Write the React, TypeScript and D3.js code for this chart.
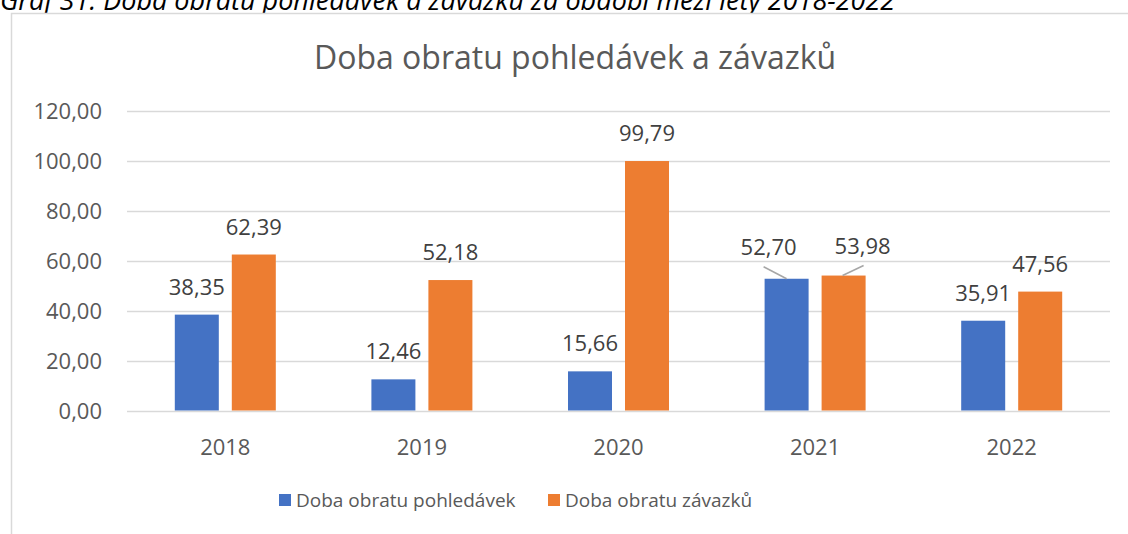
import { useRef, useEffect } from 'react';
import { select, scaleBand, scaleLinear } from 'd3';

const years = ['2018', '2019', '2020', '2021', '2022'];
const receivables = [38.35, 12.46, 15.66, 52.7, 35.91];
const payables = [62.39, 52.18, 99.79, 53.98, 47.56];
const seriesNames = ['Doba obratu pohledávek', 'Doba obratu závazků'];
const seriesColors = ['#4472c4', '#ed7d31'];
const yTicks = [0, 20, 40, 60, 80, 100, 120];

const fmt = (v: number) => v.toFixed(2).replace('.', ',');

const App = () => {
  const svgRef = useRef<SVGSVGElement | null>(null);

  useEffect(() => {
    document.body.style.margin = '0';
    const svg = select(svgRef.current);
    svg.selectAll('*').remove();
    const font = '"Open Sans", sans-serif';

    // caption above the chart (clipped at the top, as in the source)
    svg
      .append('text')
      .attr('x', 0)
      .attr('y', 10)
      .attr('font-family', font)
      .attr('font-style', 'italic')
      .attr('font-size', 27)
      .attr('fill', '#000')
      .text('Graf 31: Doba obratu pohledávek a závazků za období mezi lety 2018-2022');

    // chart frame
    svg
      .append('rect')
      .attr('x', 11.5)
      .attr('y', 13.5)
      .attr('width', 1200)
      .attr('height', 600)
      .attr('fill', '#fff')
      .attr('stroke', '#d9d9d9')
      .attr('stroke-width', 1.5);

    svg
      .append('text')
      .attr('x', 575)
      .attr('y', 69)
      .attr('text-anchor', 'middle')
      .attr('font-family', font)
      .attr('font-size', 32)
      .attr('fill', '#595959')
      .text('Doba obratu pohledávek a závazků');

    const xScale = scaleBand().domain(years).range([127, 1110]);
    const yScale = scaleLinear().domain([0, 120]).range([410.5, 110.5]);
    const sub = scaleBand().domain(['0', '1']).range([0, 101]).paddingInner(13 / 57);
    const groupOffset = (xScale.bandwidth() - 101) / 2;

    // gridlines
    svg
      .selectAll('.grid')
      .data(yTicks)
      .join('line')
      .attr('class', 'grid')
      .attr('x1', 127)
      .attr('x2', 1110)
      .attr('y1', (d) => Math.round(yScale(d)) + 0.5)
      .attr('y2', (d) => Math.round(yScale(d)) + 0.5)
      .attr('stroke', '#d9d9d9')
      .attr('stroke-width', 1.5);

    svg
      .selectAll('.ylab')
      .data(yTicks)
      .join('text')
      .attr('class', 'ylab')
      .attr('x', 102)
      .attr('y', (d) => yScale(d) + 8)
      .attr('text-anchor', 'end')
      .attr('font-family', font)
      .attr('font-size', 22)
      .attr('fill', '#595959')
      .text((d) => fmt(d));

    svg
      .selectAll('.xlab')
      .data(years)
      .join('text')
      .attr('class', 'xlab')
      .attr('x', (d) => (xScale(d) ?? 0) + xScale.bandwidth() / 2)
      .attr('y', 455)
      .attr('text-anchor', 'middle')
      .attr('font-family', font)
      .attr('font-size', 22)
      .attr('fill', '#595959')
      .text((d) => d);

    const series = [receivables, payables];
    // label offsets for the 2021 labels, moved aside with leader lines
    const moved: Record<string, [number, number][]> = {
      '2021': [
        [-18, -24],
        [19, -22],
      ],
    };

    series.forEach((values, si) => {
      const rows = years.map((y, i) => ({ year: y, value: values[i] }));
      const bx = (d: { year: string }) => (xScale(d.year) ?? 0) + groupOffset + (sub(String(si)) ?? 0);

      svg
        .selectAll(`.bar${si}`)
        .data(rows)
        .join('rect')
        .attr('class', `bar${si}`)
        .attr('x', bx)
        .attr('y', (d) => yScale(d.value))
        .attr('width', sub.bandwidth())
        .attr('height', (d) => yScale(0) - yScale(d.value))
        .attr('fill', seriesColors[si]);

      rows.forEach((d) => {
        const cx = bx(d) + sub.bandwidth() / 2;
        const top = yScale(d.value);
        const off = moved[d.year]?.[si];
        const lx = off ? cx + off[0] : cx;
        const ly = off ? top + off[1] : top - 20;
        if (off) {
          svg
            .append('line')
            .attr('x1', lx + (si === 0 ? -5 : 1))
            .attr('y1', ly + 12)
            .attr('x2', cx + (si === 0 ? 0 : -1))
            .attr('y2', top)
            .attr('stroke', '#a6a6a6')
            .attr('stroke-width', 1.5);
        }
        svg
          .append('text')
          .attr('x', lx)
          .attr('y', ly)
          .attr('text-anchor', 'middle')
          .attr('font-family', font)
          .attr('font-size', 22)
          .attr('fill', '#404040')
          .text(fmt(d.value));
      });
    });

    // legend
    const legendX = [279, 548];
    seriesNames.forEach((name, i) => {
      svg
        .append('rect')
        .attr('x', legendX[i])
        .attr('y', 494)
        .attr('width', 12)
        .attr('height', 12)
        .attr('fill', seriesColors[i]);
      svg
        .append('text')
        .attr('x', legendX[i] + 17)
        .attr('y', 507)
        .attr('font-family', font)
        .attr('font-size', 19)
        .attr('fill', '#595959')
        .text(name);
    });
  }, []);

  return <svg ref={svgRef} width={1128} height={534} style={{ display: 'block' }}></svg>;
};

export default App;
